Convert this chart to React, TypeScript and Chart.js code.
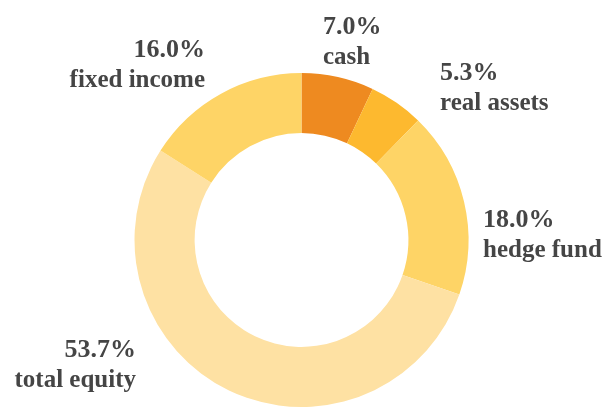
import React, { useEffect, useRef } from "react";
import { Chart, registerables } from "chart.js";

Chart.register(...registerables);

const categories = ["cash", "real assets", "hedge fund", "total equity", "fixed income"];
const values = [7.0, 5.3, 18.0, 53.7, 16.0];
const percentLabels = ["7.0%", "5.3%", "18.0%", "53.7%", "16.0%"];
const colors = ["#EE8A20", "#FDB92F", "#FED466", "#FEE1A3", "#FED466"];

// label layout: offset of percent baseline relative to chart center, alignment
const labelLayout = [
  { dx: 21.5, dy: -206, align: "left" },
  { dx: 138.5, dy: -160, align: "left" },
  { dx: 181.5, dy: -13, align: "left" },
  { dx: -165.5, dy: 117, align: "right" },
  { dx: -96.5, dy: -183, align: "right" },
];

const labelPlugin = {
  id: "sliceLabels",
  afterDraw(chart: any) {
    const meta = chart.getDatasetMeta(0);
    const arc = meta.data[0];
    if (!arc) return;
    const cx = arc.x;
    const cy = arc.y;
    const ctx = chart.ctx;
    ctx.save();
    ctx.fillStyle = "#454545";
    ctx.textBaseline = "alphabetic";
    for (let i = 0; i < categories.length; i++) {
      const l = labelLayout[i];
      ctx.textAlign = l.align;
      const x = cx + l.dx;
      const y = cy + l.dy;
      ctx.font = "bold 26px 'Liberation Serif'";
      ctx.fillText(percentLabels[i], x, y);
      ctx.font = "bold 25px 'Liberation Serif'";
      ctx.fillText(categories[i], x, y + 30);
    }
    ctx.restore();
  },
};

export default function App() {
  const ref = useRef<HTMLCanvasElement>(null);
  useEffect(() => {
    document.body.style.margin = "0";
    const chart = new Chart(ref.current!, {
      type: "doughnut",
      data: {
        labels: categories,
        datasets: [
          {
            data: values,
            backgroundColor: colors,
            borderWidth: 0,
          },
        ],
      },
      options: {
        responsive: false,
        animation: false,
        cutout: "64%",
        layout: { padding: { top: 73, bottom: 7, left: 134.5, right: 140.5 } },
        plugins: {
          legend: { display: false },
          tooltip: { enabled: false },
        },
      },
      plugins: [labelPlugin],
    });
    return () => chart.destroy();
  }, []);
  return (
    <div style={{ width: 609, height: 414, background: "#fff" }}>
      <canvas ref={ref} width={609} height={414} />
    </div>
  );
}
